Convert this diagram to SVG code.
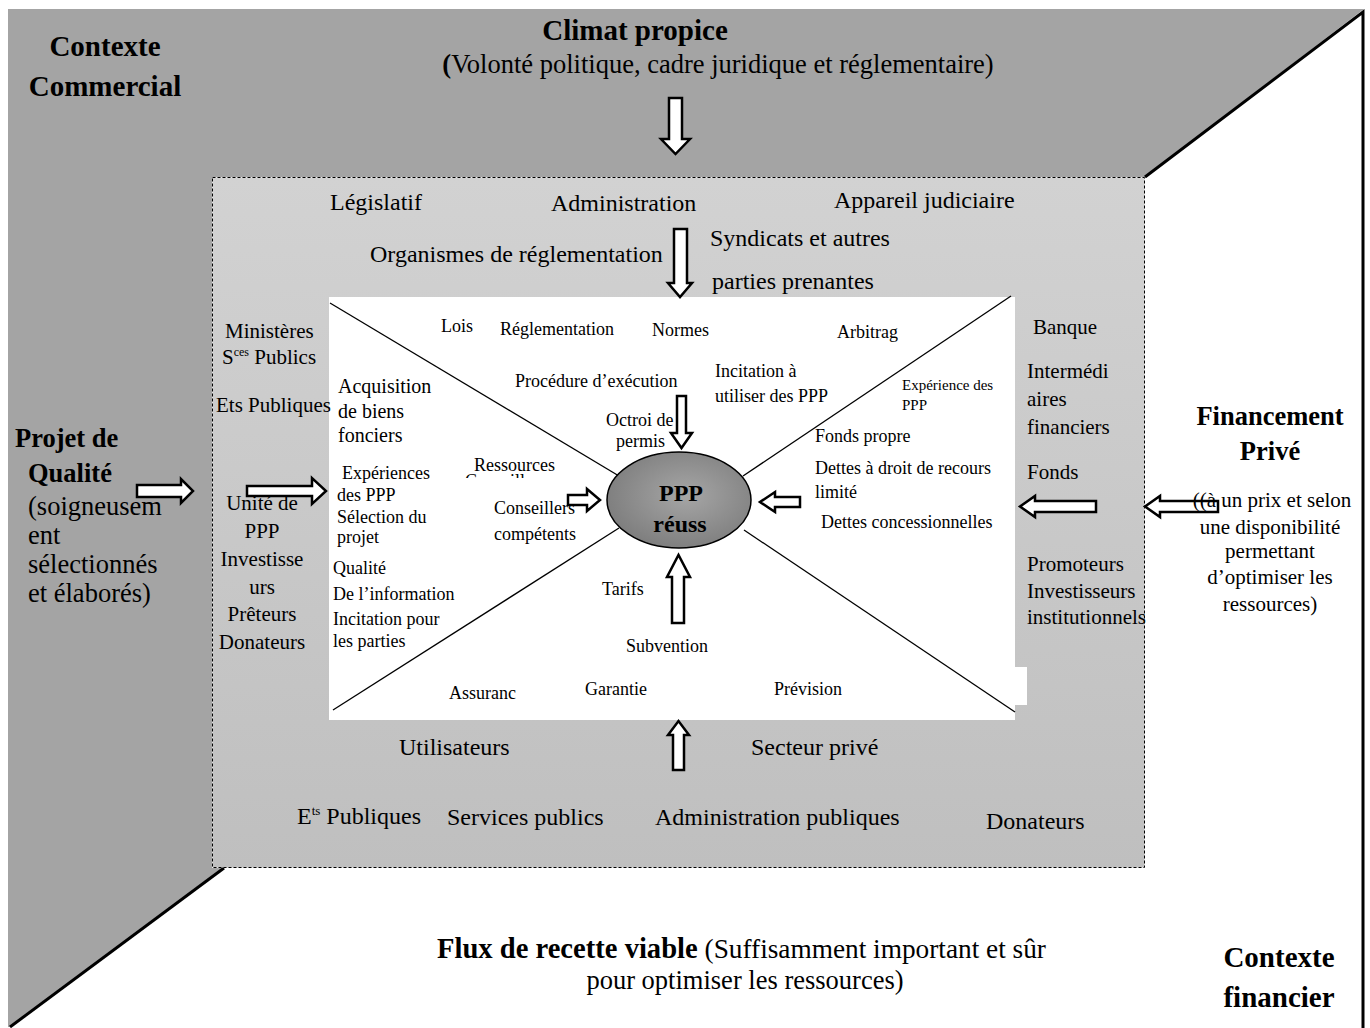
<svg xmlns="http://www.w3.org/2000/svg" width="1370" height="1028" viewBox="0 0 1370 1028">
<defs>
<linearGradient id="boxg" x1="0" y1="0" x2="0" y2="1">
<stop offset="0" stop-color="#d2d2d2"/>
<stop offset="1" stop-color="#bfbfbf"/>
</linearGradient>
<radialGradient id="ellg" cx="0.55" cy="0.45" r="0.6">
<stop offset="0" stop-color="#a6a6a6"/>
<stop offset="1" stop-color="#7c7c7c"/>
</radialGradient>
<clipPath id="clipCons"><rect x="460" y="440" width="120" height="38"/></clipPath>
<style>
text{font-family:"Liberation Serif","Times New Roman",serif;fill:#000}
.b{font-weight:bold}
.t29{font-size:29px}
.t26{font-size:26.5px}
.t24{font-size:24px}
.t21{font-size:21px}
.t20{font-size:20px}
.t18{font-size:18px}
.t15{font-size:15px}
.c{text-anchor:middle}
.arr{fill:#fff;stroke:#000;stroke-width:2.5;stroke-linejoin:miter}
.ln{stroke:#000;stroke-width:1.3;fill:none}
.edge{stroke:#000;stroke-width:3;fill:none}
</style>
</defs>
<rect width="1370" height="1028" fill="#fff"/>
<g id="background">
<polygon points="8,9 1364,9 1145,177 212,177 212,868 224,868 10,1027 8,1027" fill="#a4a4a4"/>
<polyline class="edge" points="1145,177 1363,12 1363,1028"/>
<line class="edge" x1="224" y1="868" x2="10" y2="1027"/>
<rect x="212.5" y="177.5" width="932" height="690" fill="url(#boxg)" stroke="#000" stroke-width="1" stroke-dasharray="3,2"/>
<rect x="329" y="297" width="686" height="423" fill="#fff"/>
<rect x="1015" y="667" width="12" height="38" fill="#fff"/>
</g>
<g id="connectors">
<line class="ln" x1="330" y1="303" x2="619" y2="476"/>
<line class="ln" x1="1011" y1="296" x2="743" y2="476"/>
<line class="ln" x1="333" y1="710" x2="619" y2="528"/>
<line class="ln" x1="744" y1="530" x2="1015" y2="712"/>
<path class="arr" d="M669,98 H682 V139 H690 L675.5,154 L661,139 H669 Z"/>
<path class="arr" d="M674,229 H687 V283 H692 L680,297 L668,283 H674 Z"/>
<path class="arr" d="M677,396 H686 V433 H692 L681.5,448 L671,433 H677 Z"/>
<path class="arr" d="M672,623 H684 V577 H690 L678.5,555 L667,577 H672 Z"/>
<path class="arr" d="M673,770 H684 V735 H689 L678.5,721 L668,735 H673 Z"/>
<path class="arr" d="M137,485 H181 V479 L193,491 L181,503 V497 H137 Z"/>
<path class="arr" d="M247,486 H312 V478 L326,491 L312,504 V496 H247 Z"/>
<path class="arr" d="M568,495 H587 V489 L600,500 L587,511 V505 H568 Z"/>
<path class="arr" d="M800,497 H775 V492 L760,502 L775,512 V507 H800 Z"/>
<path class="arr" d="M1096,501 H1035 V496 L1020,506.5 L1035,517 V512 H1096 Z"/>
<path class="arr" d="M1218,501 H1160 V496 L1145,506.5 L1160,517 V512 H1218 Z"/>
</g>
<g id="ppp">
<ellipse cx="679" cy="500" rx="72" ry="48" fill="url(#ellg)" stroke="#000" stroke-width="1.5"/>
<text class="b t24 c" x="681" y="501">PPP</text>
<text class="b t24 c" x="680" y="532">réuss</text>
</g>
<g id="contexte-commercial">
<text class="b t29 c" x="105" y="56">Contexte</text>
<text class="b t29 c" x="105" y="96">Commercial</text>
</g>
<g id="climat">
<text class="b t29 c" x="635" y="40">Climat propice</text>
<text class="t26 c" x="718" y="73"><tspan class="b">(</tspan>Volonté politique, cadre juridique et réglementaire)</text>
</g>
<g id="projet">
<text class="b t26" x="15" y="447">Projet de</text>
<text class="b t26" x="28" y="482">Qualité</text>
<text class="t26" x="28" y="515">(soigneusem</text>
<text class="t26" x="28" y="544">ent</text>
<text class="t26" x="28" y="573">sélectionnés</text>
<text class="t26" x="28" y="602">et élaborés)</text>
</g>
<g id="financement">
<text class="b t26 c" x="1270" y="425">Financement</text>
<text class="b t26 c" x="1270" y="460">Privé</text>
<text class="t21 c" x="1272" y="507">((à un prix et selon</text>
<text class="t21 c" x="1270" y="534">une disponibilité</text>
<text class="t21 c" x="1270" y="558">permettant</text>
<text class="t21 c" x="1270" y="584">d’optimiser les</text>
<text class="t21 c" x="1270" y="611">ressources)</text>
</g>
<g id="flux">
<text x="437" y="958" font-size="27.3px"><tspan class="b" font-size="28.6px">Flux de recette viable</tspan> (Suffisamment important et sûr</text>
<text class="t26 c" x="745" y="989">pour optimiser les ressources)</text>
</g>
<g id="contexte-financier">
<text class="b t29 c" x="1279" y="967">Contexte</text>
<text class="b t29 c" x="1279" y="1007">financier</text>
</g>
<g id="acteurs-haut">
<text class="t24" x="330" y="210">Législatif</text>
<text class="t24" x="551" y="211">Administration</text>
<text class="t24" x="834" y="208">Appareil judiciaire</text>
<text class="t24" x="370" y="262">Organismes de réglementation</text>
<text class="t24" x="710" y="246">Syndicats et autres</text>
<text class="t24" x="712" y="289">parties prenantes</text>
</g>
<g id="acteurs-gauche">
<text class="t21" x="225" y="338">Ministères</text>
<text class="t21" x="222" y="364">S<tspan font-size="12" dy="-8">ces</tspan><tspan dy="8"> Publics</tspan></text>
<text class="t21" x="216" y="412">Ets Publiques</text>
<text class="t21 c" x="262" y="510">Unité de</text>
<text class="t21 c" x="262" y="538">PPP</text>
<text class="t21 c" x="262" y="566">Investisse</text>
<text class="t21 c" x="262" y="594">urs</text>
<text class="t21 c" x="262" y="621">Prêteurs</text>
<text class="t21 c" x="262" y="649">Donateurs</text>
</g>
<g id="acteurs-droite">
<text class="t21" x="1033" y="334">Banque</text>
<text class="t21" x="1027" y="378">Intermédi</text>
<text class="t21" x="1027" y="406">aires</text>
<text class="t21" x="1027" y="434">financiers</text>
<text class="t21" x="1027" y="479">Fonds</text>
<text class="t21" x="1027" y="571">Promoteurs</text>
<text class="t21" x="1027" y="598">Investisseurs</text>
<text class="t21" x="1027" y="624">institutionnels</text>
</g>
<g id="acteurs-bas">
<text class="t24" x="399" y="755">Utilisateurs</text>
<text class="t24" x="751" y="755">Secteur privé</text>
<text class="t24" x="297" y="824">E<tspan font-size="13" dy="-9">ts</tspan><tspan dy="9"> Publiques</tspan></text>
<text class="t24" x="447" y="825">Services publics</text>
<text class="t24" x="655" y="825">Administration publiques</text>
<text class="t24" x="986" y="829">Donateurs</text>
</g>
<g id="facteurs">
<text class="t18" x="441" y="332">Lois</text>
<text class="t18" x="500" y="335">Réglementation</text>
<text class="t18" x="652" y="336">Normes</text>
<text class="t18" x="837" y="338">Arbitrag</text>
<text class="t18" x="515" y="387">Procédure d’exécution</text>
<text class="t18" x="715" y="377">Incitation à</text>
<text class="t18" x="715" y="402">utiliser des PPP</text>
<text class="t15" x="902" y="390">Expérience des</text>
<text class="t15" x="902" y="410">PPP</text>
<text class="t18" x="606" y="426">Octroi de</text>
<text class="t18" x="616" y="447">permis</text>
<text class="t20" x="338" y="393">Acquisition</text>
<text class="t20" x="338" y="418">de biens</text>
<text class="t20" x="338" y="442">fonciers</text>
<text class="t18" x="342" y="479">Expériences</text>
<text class="t18" x="337" y="501">des PPP</text>
<text class="t18" x="337" y="523">Sélection du</text>
<text class="t18" x="337" y="543">projet</text>
<text class="t18" x="465" y="487" clip-path="url(#clipCons)">Conseillers</text>
<text class="t18" x="474" y="471">Ressources</text>
<text class="t18" x="494" y="514">Conseillers</text>
<text class="t18" x="494" y="540">compétents</text>
<text class="t18" x="333" y="574">Qualité</text>
<text class="t18" x="333" y="600">De l’information</text>
<text class="t18" x="333" y="625">Incitation pour</text>
<text class="t18" x="333" y="647">les parties</text>
<text class="t18" x="602" y="595">Tarifs</text>
<text class="t18" x="626" y="652">Subvention</text>
<text class="t18" x="449" y="699">Assuranc</text>
<text class="t18" x="585" y="695">Garantie</text>
<text class="t18" x="774" y="695">Prévision</text>
<text class="t18" x="815" y="442">Fonds propre</text>
<text class="t18" x="815" y="474">Dettes à droit de recours</text>
<text class="t18" x="815" y="498">limité</text>
<text class="t18" x="821" y="528">Dettes concessionnelles</text>
</g>
</svg>
